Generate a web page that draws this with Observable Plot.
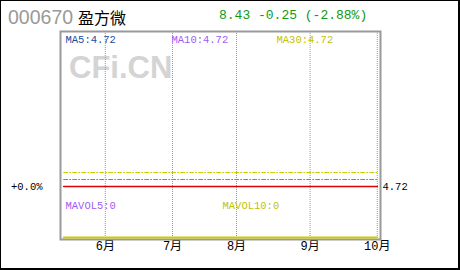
<!DOCTYPE html>
<html>
<head>
<meta charset="utf-8">
<script src="https://cdn.jsdelivr.net/npm/d3@7"></script>
<script src="https://cdn.jsdelivr.net/npm/@observablehq/plot@0.6"></script>
<style>
  html, body { margin: 0; padding: 0; background: #fff; }
  #wrap { position: relative; width: 460px; height: 270px; background: #fff; overflow: hidden; }
  #border { position: absolute; left: 0; top: 0; width: 460px; height: 270px; box-sizing: border-box;
            border-style: solid; border-color: #000; border-width: 1px 2px 2px 1px; pointer-events: none; }
  .hd { position: absolute; white-space: nowrap; line-height: 1; }
  #code { left: 8px; top: 6px; font: 19.5px "Liberation Sans", Arial, sans-serif; color: #999; }
  #name { left: 78px; top: 5px; font: 16px "Noto Sans CJK SC", sans-serif; color: #000; }
  #quote { left: 219px; top: 8px; font: 13px "Liberation Mono", "DejaVu Sans Mono", monospace; color: #119911; }
  .layer { position: absolute; left: 0; top: 28px; }
  #watermark { position: absolute; left: 69px; top: 50px; font: bold 31px "Liberation Sans", Arial, sans-serif; color: #d4d4d4; }
</style>
</head>
<body>
<div id="wrap">
  <div id="watermark">CFi.CN</div>
  <div class="hd" id="code"></div>
  <div class="hd" id="name"></div>
  <div class="hd" id="quote"></div>
  <div class="layer" id="price"></div>
  <div class="layer" id="vol"></div>
  <div id="border"></div>
</div>
<script>
// ---- data ----
const stockCode = "000670";
const stockName = "盈方微";
const quoteText = "8.43 -0.25 (-2.88%)";

// trading-day index of first and last drawn day
const days = [1, 99];
const closePrice = [4.72, 4.72];
const ma10Values = [4.724, 4.724];
const ma30Values = [4.728, 4.728];
const volume = [0, 0];

const monthTickIdx = [14, 35, 55, 78, 99];
const monthLabels = ["6月", "7月", "8月", "9月", "10月"];

const maLabels = ["MA5:4.72", "MA10:4.72", "MA30:4.72"];
const volLabels = ["MAVOL5:0", "MAVOL10:0"];
const refPrice = 4.72;
const refPctLabel = "+0.0%";

document.getElementById("code").textContent = stockCode;
document.getElementById("name").textContent = stockName;
document.getElementById("quote").textContent = quoteText;

const rows = (ys) => days.map((d, i) => ({x: d, y: ys[i]}));
const mono = "'Liberation Mono', 'DejaVu Sans Mono', monospace";

const W = 460, H = 240;
const xDomain = [0, 100];

const price = Plot.plot({
  width: W, height: H,
  marginLeft: 60, marginRight: 80, marginTop: 3, marginBottom: 29,
  style: {background: "transparent", fontFamily: mono, fontSize: "10.5px", color: "#000"},
  x: {domain: xDomain},
  y: {domain: [4.6897, 4.8086]},
  marks: [
    Plot.ruleX(monthTickIdx, {stroke: "#999", strokeDasharray: "1,1", strokeWidth: 1}),
    Plot.line(rows(ma30Values), {x: "x", y: "y", stroke: "#cccc00", strokeWidth: 1, strokeDasharray: "4,2,1,2"}),
    Plot.line(rows(ma10Values), {x: "x", y: "y", stroke: "#a05cf5", strokeWidth: 1, strokeDasharray: "4,2,1,2"}),
    Plot.line(rows(closePrice), {x: "x", y: "y", stroke: "#dd0000", strokeWidth: 1.6}),
    Plot.text([maLabels[0]], {frameAnchor: "top-left", dx: 5, dy: 4, fill: "#1a4d9c", textAnchor: "start"}),
    Plot.text([maLabels[1]], {frameAnchor: "top-left", dx: 111, dy: 4, fill: "#a05cf5", textAnchor: "start"}),
    Plot.text([maLabels[2]], {frameAnchor: "top-left", dx: 216, dy: 4, fill: "#c2c200", textAnchor: "start"}),
    Plot.axisX({ticks: monthTickIdx, tickFormat: (d, i) => monthLabels[i], tickSize: 0, tickPadding: 2,
      fontSize: 12, fontFamily: "'Liberation Mono', 'Noto Sans CJK SC', monospace", fill: "#000"}),
    Plot.axisY({anchor: "left", ticks: [refPrice], tickFormat: () => refPctLabel, tickSize: 0, tickPadding: 18, fill: "#000"}),
    Plot.axisY({anchor: "right", ticks: [refPrice], tickFormat: d => d.toFixed(2), tickSize: 0, tickPadding: 2, fill: "#000"}),
    Plot.frame({stroke: "#999", strokeWidth: 2})
  ]
});
price.querySelectorAll("[aria-label='x-axis label'], [aria-label='y-axis label']").forEach(n => n.remove());
document.getElementById("price").appendChild(price);

const vol = Plot.plot({
  width: W, height: H,
  marginLeft: 60, marginRight: 80, marginTop: 170, marginBottom: 31,
  style: {background: "transparent", fontFamily: mono, fontSize: "10.5px"},
  x: {domain: xDomain, axis: null},
  y: {domain: [0, 1], axis: null},
  marks: [
    Plot.line(rows(volume), {x: "x", y: "y", stroke: "#cccc00", strokeWidth: 2}),
    Plot.text([volLabels[0]], {frameAnchor: "top-left", dx: 5, dy: 3, fill: "#a05cf5", textAnchor: "start"}),
    Plot.text([volLabels[1]], {frameAnchor: "top-left", dx: 162, dy: 3, fill: "#c2c200", textAnchor: "start"})
  ]
});
document.getElementById("vol").appendChild(vol);
</script>
</body>
</html>
